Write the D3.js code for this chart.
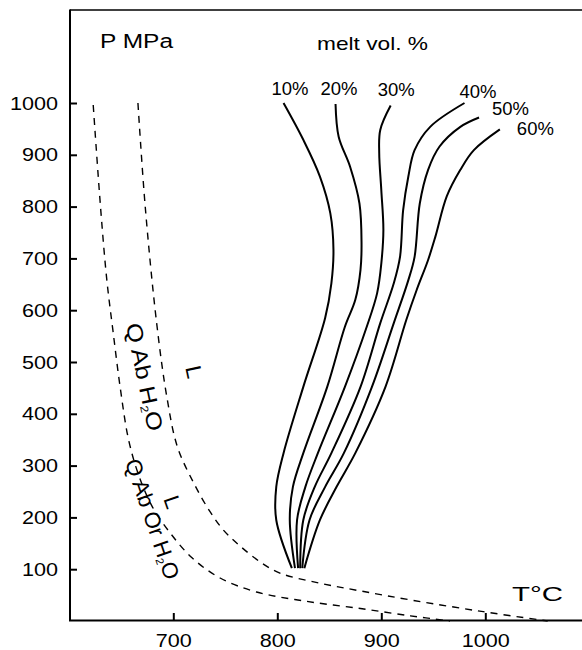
<!DOCTYPE html>
<html>
<head>
<meta charset="utf-8">
<script src="https://cdn.jsdelivr.net/npm/d3@7"></script>
<style>
  body { margin: 0; background: #fff; }
  svg { display: block; }
  text { font-family: "Liberation Sans", Arial, sans-serif; fill: #000; }
</style>
</head>
<body>
<svg id="chart" width="582" height="650"></svg>
<script>
// axis ticks
const tempTicks = [700, 800, 900, 1000];
const pressTicks = [100, 200, 300, 400, 500, 600, 700, 800, 900, 1000];

const meltNames = ["10%", "20%", "30%", "40%", "50%", "60%"];
const melt10 = [[806,1000],[825,929],[841,858],[851,787],[854,716],[852,652],[846,585],[825,452],[806,324],[799,259],[799,195],[814,102]];
const melt20 = [[856,998],[859,935],[870,877],[879,806],[881,729],[880,678],[875,620],[865,568],[848,452],[825,324],[815,259],[812,195],[817,102]];
const melt30 = [[909,995],[899,948],[898,903],[900,832],[902,755],[900,690],[896,633],[886,568],[865,452],[839,324],[827,259],[819,195],[820,102]];
const melt40 = [[980,1000],[947,954],[932,909],[926,858],[921,793],[918,703],[912,652],[899,575],[880,452],[852,324],[836,259],[825,195],[822,102]];
const melt50 = [[994,972],[976,954],[956,916],[945,871],[937,806],[932,703],[926,658],[912,575],[891,452],[864,324],[846,259],[831,195],[824,102]];
const melt60 = [[1014,949],[989,909],[976,871],[963,820],[952,742],[945,697],[934,639],[924,581],[904,452],[875,324],[857,259],[841,195],[826,102]];

// dashed liquidus curves
const liqQAb = [[666,1000],[673,800],[684,575],[694,430],[704,336],[720,265],[735,212],[748,176],[764,145],[785,112],[803,92],[841,73],[880,58],[930,40],[998,18],[1060,0]];
const liqQAbOr = [[623,996],[630,800],[636,660],[642,560],[649,450],[657,350],[667,280],[680,220],[697,170],[718,122],[745,83],[780,56],[828,38],[880,24],[928,10],[966,0]];

const svg = d3.select("#chart");

const x = d3.scaleLinear().domain([600, 1000]).range([69.3, 485.3]);
const y = d3.scaleLinear().domain([0, 1000]).range([621, 103]);

// frame
svg.append("line").attr("x1", 70).attr("x2", 582).attr("y1", 10).attr("y2", 10)
    .attr("stroke", "#000").attr("stroke-width", 1.5);
svg.append("line").attr("x1", 70).attr("x2", 70).attr("y1", 9.5).attr("y2", 621)
    .attr("stroke", "#000").attr("stroke-width", 2);
svg.append("line").attr("x1", 69).attr("x2", 582).attr("y1", 620.5).attr("y2", 620.5)
    .attr("stroke", "#000").attr("stroke-width", 2);

// y axis, ticks pointing inwards
const yAxis = svg.append("g")
    .attr("transform", "translate(70,0)")
    .call(d3.axisLeft(y).tickValues(pressTicks).tickFormat(d3.format("d"))
        .tickSizeInner(-7).tickSizeOuter(0).tickPadding(12));
yAxis.select(".domain").remove();
yAxis.selectAll(".tick line").attr("stroke-width", 2);
yAxis.selectAll(".tick text")
    .style("font-size", "19px")
    .attr("textLength", d => String(d).length * 12)
    .attr("lengthAdjust", "spacingAndGlyphs");

// x axis
const xAxis = svg.append("g")
    .attr("transform", "translate(0,620)")
    .call(d3.axisBottom(x).tickValues(tempTicks).tickFormat(d3.format("d"))
        .tickSizeInner(-7).tickSizeOuter(0).tickPadding(14));
xAxis.select(".domain").remove();
xAxis.selectAll(".tick line").attr("stroke-width", 2);
xAxis.selectAll(".tick text")
    .style("font-size", "19px")
    .attr("textLength", d => String(d).length * 12)
    .attr("lengthAdjust", "spacingAndGlyphs");

const line = d3.line()
    .x(d => x(d[0]))
    .y(d => y(d[1]))
    .curve(d3.curveCatmullRom.alpha(0.5));

// dashed curves
[liqQAb, liqQAbOr].forEach(c => {
    svg.append("path")
        .attr("d", line(c))
        .attr("fill", "none")
        .attr("stroke", "#000")
        .attr("stroke-width", 1.4)
        .attr("stroke-dasharray", "7,6");
});

// melt curves
const meltCurves = [melt10, melt20, melt30, melt40, melt50, melt60];
const labelOffsets = [[-12,-8],[-15,-9],[-13,-10],[-5,-5],[13,-3],[17,6]];

meltCurves.forEach((c, i) => {
    svg.append("path")
        .attr("d", line(c))
        .attr("fill", "none")
        .attr("stroke", "#000")
        .attr("stroke-width", 2);
    svg.append("text")
        .attr("x", x(c[0][0]) + labelOffsets[i][0])
        .attr("y", y(c[0][1]) + labelOffsets[i][1])
        .style("font-size", "19px")
        .attr("textLength", 37)
        .attr("lengthAdjust", "spacingAndGlyphs")
        .text(meltNames[i]);
});

// titles
svg.append("text").attr("x", 100).attr("y", 48)
    .style("font-size", "20px").attr("textLength", 73).attr("lengthAdjust", "spacingAndGlyphs")
    .text("P MPa");
svg.append("text").attr("x", 317).attr("y", 50)
    .style("font-size", "19px").attr("textLength", 111).attr("lengthAdjust", "spacingAndGlyphs")
    .text("melt vol. %");
svg.append("text").attr("x", 512).attr("y", 601)
    .style("font-size", "20px").attr("textLength", 51).attr("lengthAdjust", "spacingAndGlyphs")
    .text("T°C");

// rotated field labels
function fieldLabel(cx, cy, angle, len, parts) {
    const t = svg.append("text")
        .attr("transform", `translate(${cx},${cy}) rotate(${angle})`)
        .attr("text-anchor", "middle")
        .attr("dy", "0.35em")
        .style("font-size", "22px");
    if (len) t.attr("textLength", len).attr("lengthAdjust", "spacingAndGlyphs");
    parts.forEach(p => {
        const s = t.append("tspan").text(p[0]);
        if (p[1]) s.style("font-size", "11px").attr("baseline-shift", "-30%");
    });
}
fieldLabel(144.6, 377, 78, 110, [["Q Ab H"], ["2", true], ["O"]]);
fieldLabel(152.5, 519, 71, 126, [["Q Ab Or H"], ["2", true], ["O"]]);
fieldLabel(194, 372, 78, 0, [["L"]]);
fieldLabel(172.5, 502, 71, 0, [["L"]]);
</script>
</body>
</html>
